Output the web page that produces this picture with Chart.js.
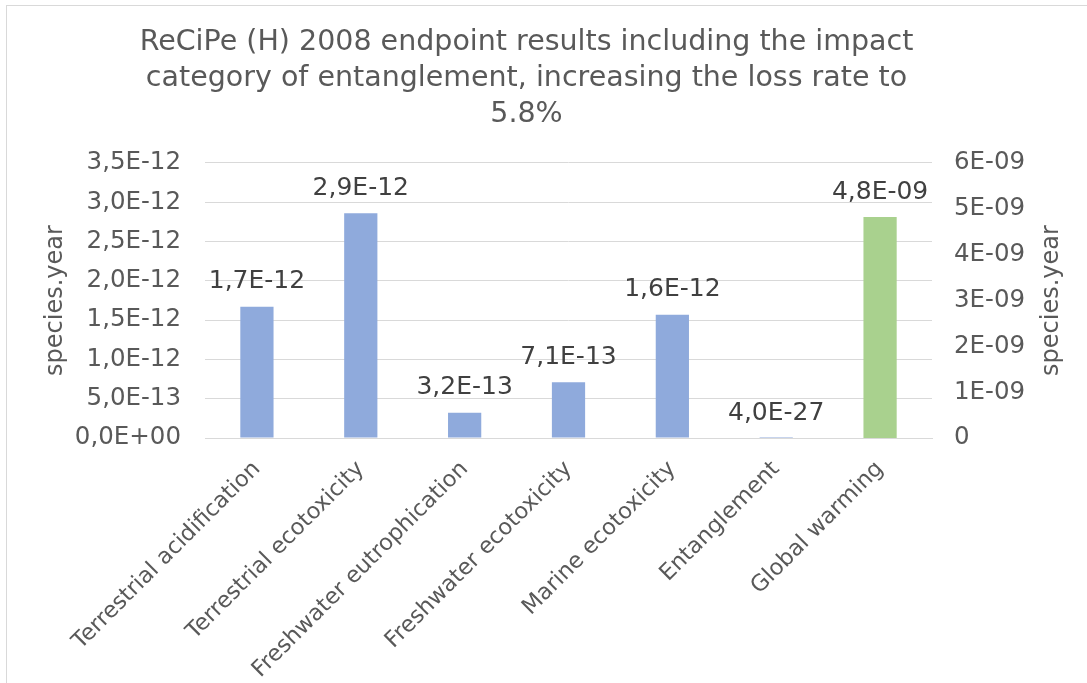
<!DOCTYPE html>
<html>
<head>
<meta charset="utf-8">
<title>ReCiPe (H) 2008 endpoint results</title>
<script src="https://cdn.jsdelivr.net/npm/chart.js@4"></script>
<style>
    html, body { margin: 0; padding: 0; background: #fff; overflow: hidden; }
    #frame { position: absolute; left: 6px; top: 5px; width: 1100px; height: 700px; border: 1px solid #d9d9d9; }
    #graph { position: absolute; left: 0; top: 0; }
</style>
</head>
<body>
<div id="frame"></div>
<canvas id="graph" width="1087" height="683"></canvas>
<script>
// chart data
const categories = [
    "Terrestrial acidification",
    "Terrestrial ecotoxicity",
    "Freshwater eutrophication",
    "Freshwater ecotoxicity",
    "Marine ecotoxicity",
    "Entanglement",
    "Global warming"
];
// left axis (species.year), global warming goes on the right axis
const leftValues = [1.67e-12, 2.86e-12, 3.2e-13, 7.1e-13, 1.57e-12, 4.0e-27, null];
const rightValues = [null, null, null, null, null, null, 4.82e-9];
const leftTicks = { min: 0, max: 3.5e-12, step: 5e-13 };
const rightTicks = { min: 0, max: 6e-9, step: 1e-9 };
const titleLines = [
    "ReCiPe (H) 2008 endpoint results including the impact",
    "category of entanglement, increasing the loss rate to",
    "5.8%"
];
const axisTitle = "species.year";

const grey = "#595959";
const FONT = "DejaVu Sans";

// 1,7E-12 style (comma decimal, two digit exponent)
function sci(v, digits){
    let parts = v.toExponential(digits).split("e");
    let exp = parseInt(parts[1], 10);
    let sign = exp < 0 ? "-" : "+";
    let e = String(Math.abs(exp)).padStart(2, "0");
    return parts[0].replace(".", ",") + "E" + sign + e;
}

function rightLabel(v){
    if (Math.abs(v) < 1e-15) return "0";
    return sci(v, 0);
}

// value labels above the bars
const barLabels = {
    id: "barLabels",
    afterDatasetsDraw(chart){
        const ctx = chart.ctx;
        ctx.save();
        ctx.font = "25px '" + FONT + "'";
        ctx.fillStyle = "#404040";
        ctx.textAlign = "center";
        ctx.textBaseline = "middle";
        chart.data.datasets.forEach((ds, i) => {
            const meta = chart.getDatasetMeta(i);
            meta.data.forEach((bar, j) => {
                const v = ds.data[j];
                if (v === null || v === undefined) return;
                ctx.fillText(sci(v, 1), bar.x, bar.y - 25);
            });
        });
        ctx.restore();
    }
};

// right axis title reads bottom to top like the left one (Chart.js turns it the other way)
const rightTitle = {
    id: "rightTitle",
    afterDraw(chart){
        const ctx = chart.ctx;
        const area = chart.chartArea;
        ctx.save();
        ctx.font = "24px '" + FONT + "'";
        ctx.fillStyle = grey;
        ctx.textAlign = "center";
        ctx.textBaseline = "middle";
        ctx.translate(1052, (area.top + area.bottom) / 2);
        ctx.rotate(-Math.PI / 2);
        ctx.fillText(axisTitle, 0, 0);
        ctx.restore();
    }
};

// nudge the title a bit to the left like the original
const titleShift = {
    id: "titleShift",
    afterLayout(chart){
        const t = chart.titleBlock;
        if (t) { t.left -= 22; t.right -= 22; }
    }
};

const padL = 20, padR = 10, padB = 4;

const ctx = document.getElementById("graph");
new Chart(ctx, {
    type: "bar",
    data: {
        labels: categories,
        datasets: [{
            data: leftValues,
            backgroundColor: "#8faadc",
            yAxisID: "y",
            grouped: false,
            categoryPercentage: 1,
            barPercentage: 0.32
        }, {
            data: rightValues,
            backgroundColor: "#a9d18e",
            yAxisID: "y1",
            grouped: false,
            categoryPercentage: 1,
            barPercentage: 0.32
        }]
    },
    options: {
        responsive: false,
        animation: false,
        events: [],
        layout: { padding: { left: padL, right: padR, top: 0, bottom: padB } },
        plugins: {
            legend: { display: false },
            tooltip: { enabled: false },
            title: {
                display: true,
                text: titleLines,
                color: grey,
                font: { family: FONT, size: 28.5, weight: "normal", lineHeight: 1.263 },
                padding: { top: 25, bottom: 30 }
            }
        },
        scales: {
            x: {
                grid: { display: false },
                border: { display: true, color: "#d9d9d9", width: 1 },
                ticks: {
                    color: grey,
                    font: { family: FONT, size: 22.5 },
                    maxRotation: 45,
                    minRotation: 45,
                    padding: 10,
                    autoSkip: false
                },
                afterFit(scale){ scale.height = 683 - 438 - padB; }
            },
            y: {
                position: "left",
                min: leftTicks.min,
                max: leftTicks.max,
                grid: { color: "#d9d9d9", drawTicks: false },
                border: { display: false },
                ticks: {
                    stepSize: leftTicks.step,
                    color: grey,
                    font: { family: FONT, size: 24.5 },
                    padding: 24,
                    callback: v => sci(v, 1)
                },
                title: {
                    display: true,
                    text: axisTitle,
                    color: grey,
                    font: { family: FONT, size: 24, weight: "normal" },
                    padding: { top: 21, bottom: 0 }
                },
                afterFit(scale){ scale.width = 205 - padL; }
            },
            y1: {
                position: "right",
                min: rightTicks.min,
                max: rightTicks.max,
                grid: { display: false, drawTicks: false },
                border: { display: false },
                ticks: {
                    stepSize: rightTicks.step,
                    color: grey,
                    font: { family: FONT, size: 24.5 },
                    padding: 22,
                    callback: v => rightLabel(v)
                },
                afterFit(scale){ scale.width = 1087 - 932 - padR; }
            }
        }
    },
    plugins: [barLabels, rightTitle, titleShift]
});
</script>
</body>
</html>
